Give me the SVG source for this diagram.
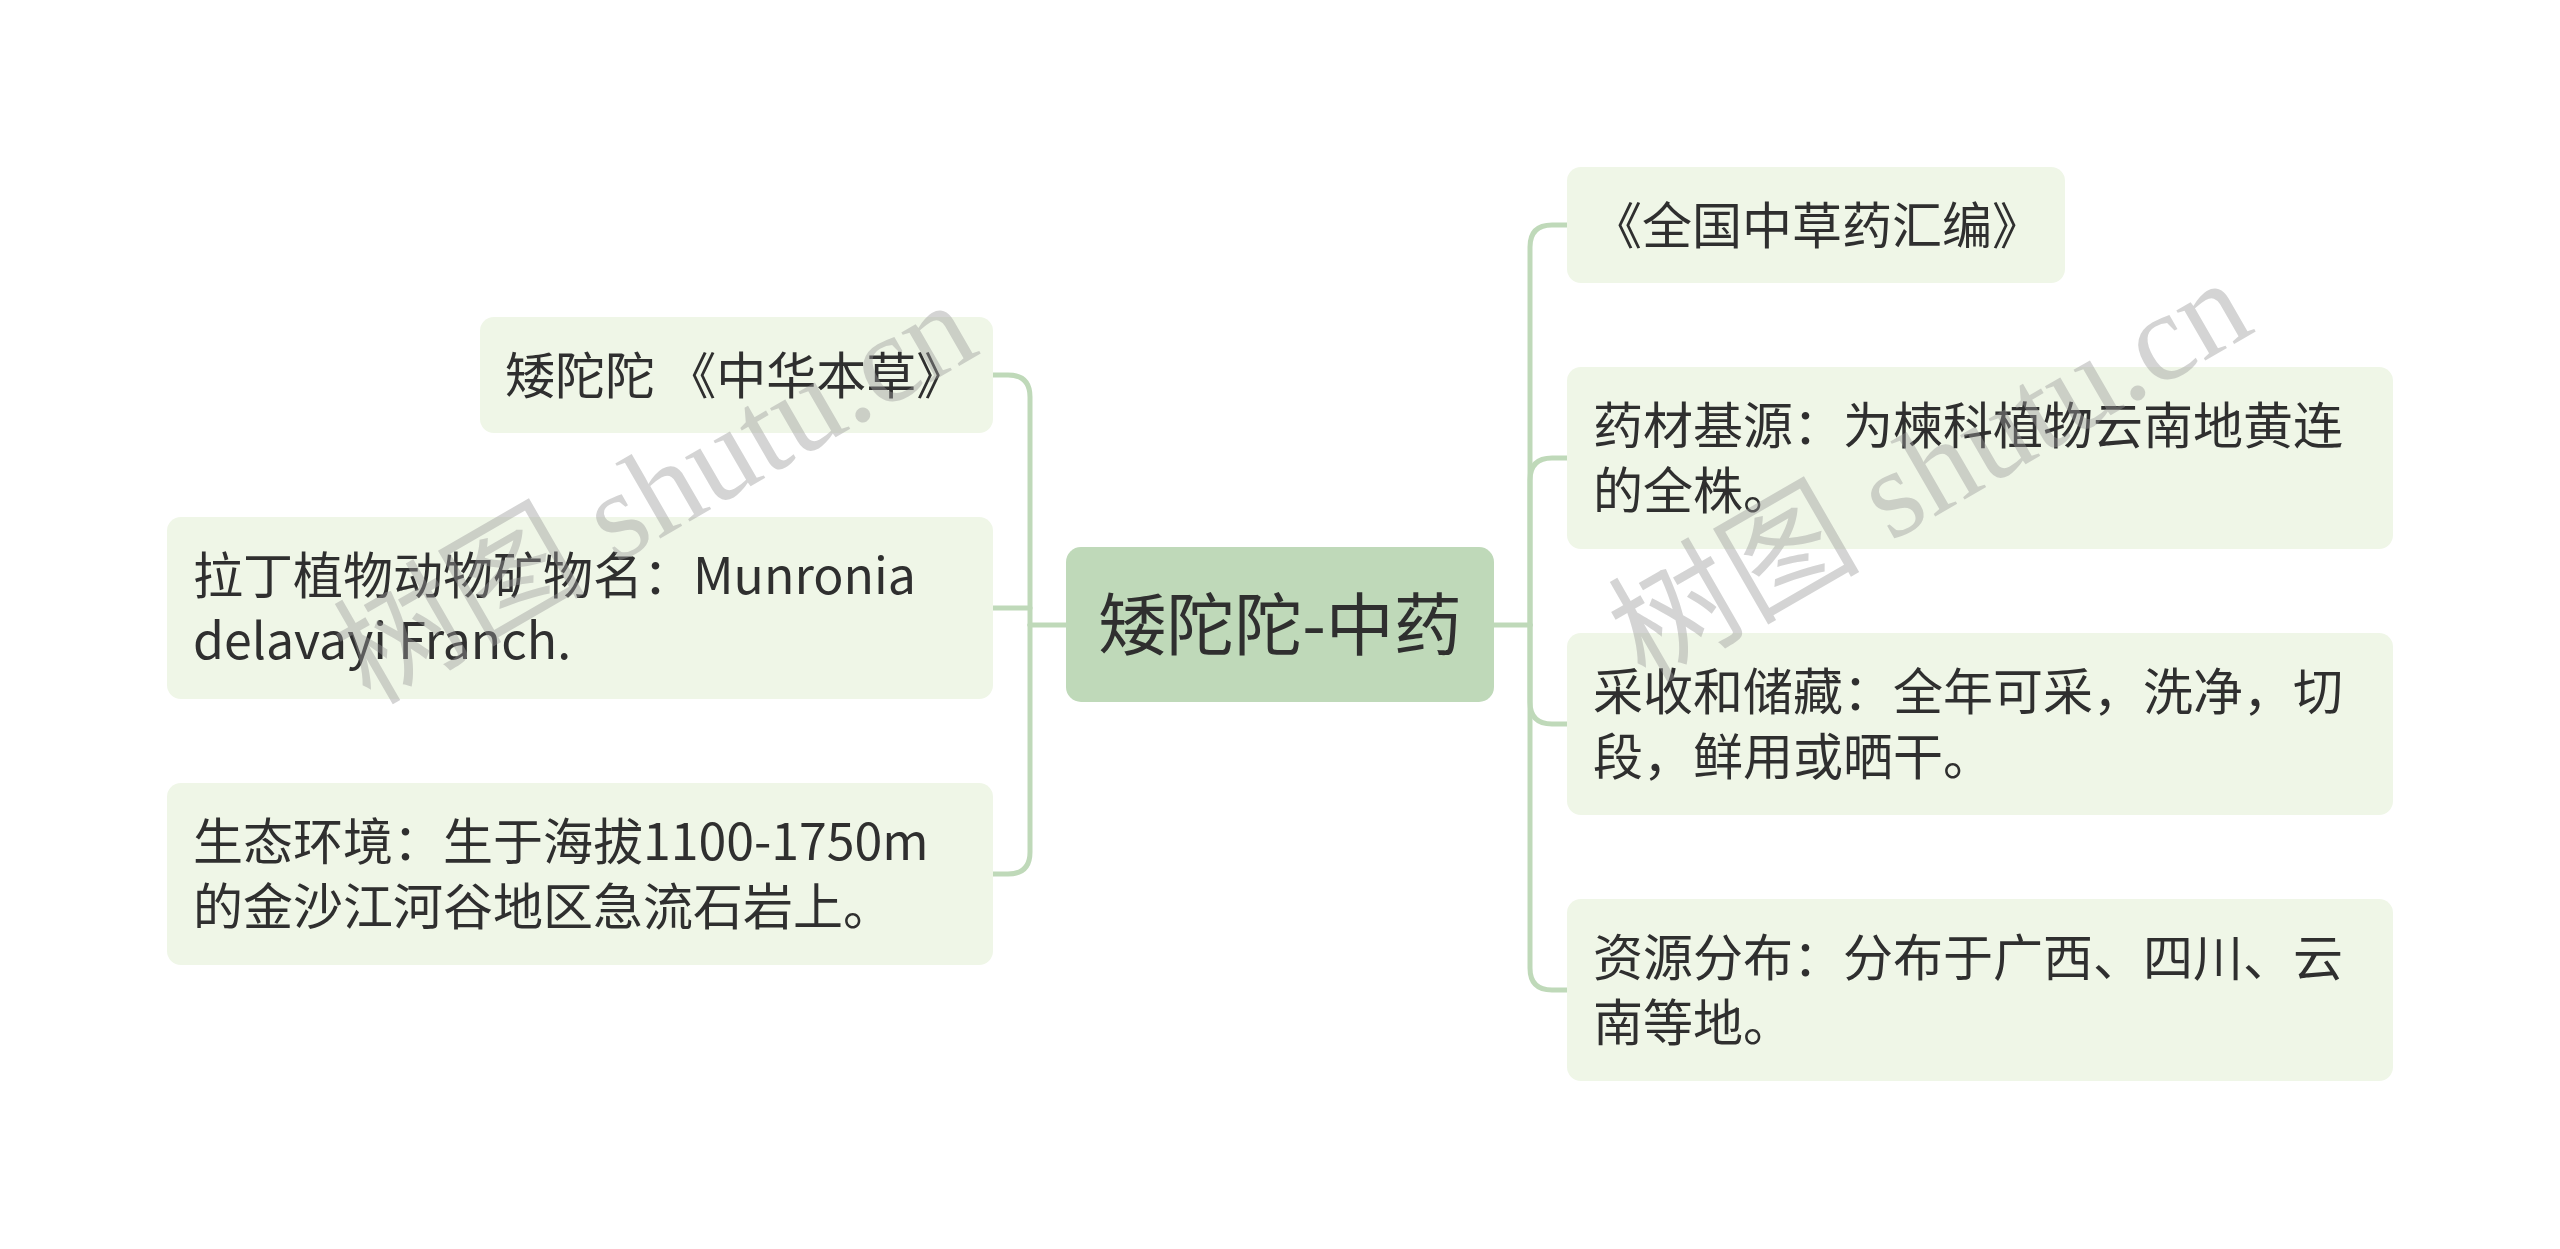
<svg xmlns="http://www.w3.org/2000/svg" width="2560" height="1249" viewBox="0 0 2560 1249">
<style>
.node rect{fill:#eff6e7}
.root rect{fill:#bfd9b9}
.t{font-family:"Noto Sans CJK SC","Noto Sans",sans-serif;font-size:50px;fill:#2f2f2f}
.rt{font-family:"Noto Sans CJK SC","Noto Sans",sans-serif;font-size:68px;fill:#2f2f2f}
.c path{fill:none;stroke:#bfd9b9;stroke-width:5;stroke-linecap:round}
.wm{font-family:"Liberation Serif","Noto Sans CJK SC",serif;font-size:126px;fill:#9a9a9a;opacity:0.42}
</style>
<rect width="2560" height="1249" fill="#ffffff"/>
<g id="connectors" class="c">
<path d="M1494,625 L1530,625"/>
<path d="M1530,625 L1530,247 Q1530,225 1552,225 L1567,225"/>
<path d="M1530,625 L1530,480 Q1530,458 1552,458 L1567,458"/>
<path d="M1530,625 L1530,702 Q1530,724 1552,724 L1567,724"/>
<path d="M1530,625 L1530,968 Q1530,990 1552,990 L1567,990"/>
<path d="M1066,625 L1030,625"/>
<path d="M1030,625 L1030,397 Q1030,375 1008,375 L993,375"/>
<path d="M1030,608 L993,608"/>
<path d="M1030,625 L1030,852 Q1030,874 1008,874 L993,874"/>
</g>
<g id="root" class="root">
<rect x="1066" y="547" width="428" height="155" rx="15"/>
<text class="rt" x="1280" y="650" text-anchor="middle">矮陀陀-中药</text>
</g>
<g id="l1" class="node">
<rect x="480" y="317" width="513" height="116" rx="14"/>
<text class="t" x="505" y="394">矮陀陀 《中华本草》</text>
</g>
<g id="l2" class="node">
<rect x="167" y="517" width="826" height="182" rx="14"/>
<text class="t" x="193" y="594">拉丁植物动物矿物名：Munronia</text>
<text class="t" x="193" y="659">delavayi Franch.</text>
</g>
<g id="l3" class="node">
<rect x="167" y="783" width="826" height="182" rx="14"/>
<text class="t" x="193" y="860">生态环境：生于海拔1100-1750m</text>
<text class="t" x="193" y="925">的金沙江河谷地区急流石岩上。</text>
</g>
<g id="r1" class="node">
<rect x="1567" y="167" width="498" height="116" rx="14"/>
<text class="t" x="1592" y="244">《全国中草药汇编》</text>
</g>
<g id="r2" class="node">
<rect x="1567" y="367" width="826" height="182" rx="14"/>
<text class="t" x="1593" y="444">药材基源：为楝科植物云南地黄连</text>
<text class="t" x="1593" y="509">的全株。</text>
</g>
<g id="r3" class="node">
<rect x="1567" y="633" width="826" height="182" rx="14"/>
<text class="t" x="1593" y="710">采收和储藏：全年可采，洗净，切</text>
<text class="t" x="1593" y="775">段，鲜用或晒干。</text>
</g>
<g id="r4" class="node">
<rect x="1567" y="899" width="826" height="182" rx="14"/>
<text class="t" x="1593" y="976">资源分布：分布于广西、四川、云</text>
<text class="t" x="1593" y="1041">南等地。</text>
</g>
<g id="watermarks">
<text class="wm" x="370" y="706" transform="rotate(-30 370 706)">树图 shutu.cn</text>
<text class="wm" x="1645" y="684" transform="rotate(-30 1645 684)">树图 shutu.cn</text>
</g>
</svg>
